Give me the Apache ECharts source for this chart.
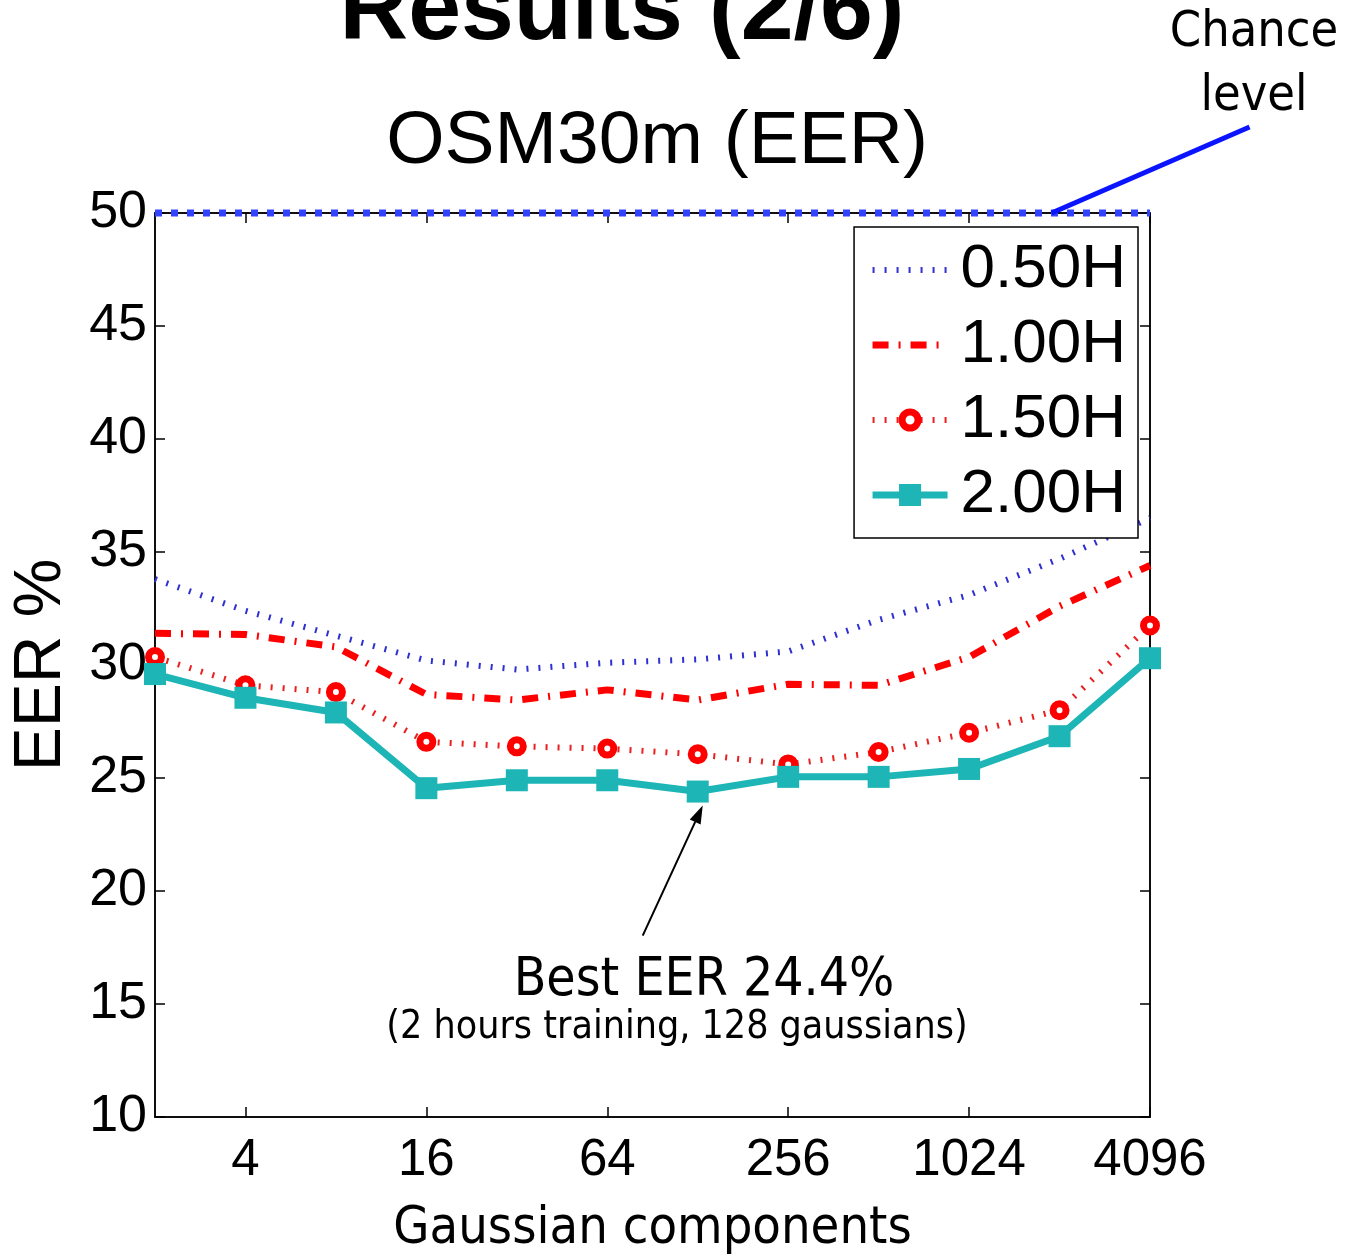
<!DOCTYPE html>
<html><head><meta charset="utf-8">
<script src="https://cdn.jsdelivr.net/npm/echarts@6/dist/echarts.min.js"></script>
<style>html,body{margin:0;padding:0;background:#fff}#c{width:1345px;height:1254px}</style>
</head><body><div id="c"></div>
<script>
const categories = ['2','4','8','16','32','64','128','256','512','1024','2048','4096'];
const h050 = [33.8, 32.4, 31.3, 30.2, 29.8, 30.1, 30.25, 30.6, 32.0, 33.1, 34.7, 36.5];
const h100 = [31.4, 31.35, 30.8, 28.7, 28.45, 28.9, 28.45, 29.15, 29.1, 30.35, 32.6, 34.4];
const h150 = [30.35, 29.1, 28.8, 26.6, 26.4, 26.3, 26.05, 25.6, 26.15, 27.0, 28.0, 31.75];
const h200 = [29.6, 28.55, 27.9, 24.55, 24.9, 24.9, 24.4, 25.05, 25.05, 25.4, 26.85, 30.3];
const chance = [50, 50, 50, 50, 50, 50, 50, 50, 50, 50, 50, 50];
const seriesNames = ['0.50H', '1.00H', '1.50H', '2.00H'];
const yTicks = {min: 10, max: 50, interval: 5};
const bestIndex = 6;
const chanceAnchorIndex = 10;

const AR = 'Liberation Sans, Arial, Helvetica, sans-serif';
const TA = 'DejaVu Sans Condensed, DejaVu Sans, Verdana, sans-serif';
const showOdd = (i) => i % 2 === 1;

const BLUE = '#3030d0', RED = '#ff0000', RED2 = '#e82020', CYAN = '#1db5b5';
const styles = {
  h050: {color: BLUE, width: 6, type: [2, 10]},
  h100: {color: RED, width: 7, type: [16, 10, 2, 10]},
  h150: {color: RED2, width: 6, type: [2, 10]},
  h200: {color: CYAN, width: 7, type: 'solid'}
};
const noSymbol = {color: 'rgba(0,0,0,0)', borderColor: 'rgba(0,0,0,0)', borderWidth: 0};

const chart = echarts.init(document.getElementById('c'), null, {renderer: 'canvas'});
const option = {
  animation: false,
  backgroundColor: '#fff',
  title: [
    {text: 'Results (2/6)', left: 617, top: -40, textAlign: 'center',
     textStyle: {fontFamily: AR, fontSize: 95, fontWeight: 'bold', color: '#000'}},
    {text: 'OSM30m (EER)', left: 652, top: 100, textAlign: 'center',
     textStyle: {fontFamily: AR, fontSize: 75, fontWeight: 'normal', color: '#000'}}
  ],
  grid: {left: 155, right: 195, top: 213, bottom: 137, show: true, borderColor: '#000', borderWidth: 1.5,
         backgroundColor: 'transparent', containLabel: false, outerBoundsMode: 'none'},
  legend: {
    data: [
      {name: seriesNames[0], lineStyle: styles.h050, itemStyle: noSymbol},
      {name: seriesNames[1], lineStyle: styles.h100, itemStyle: noSymbol},
      {name: seriesNames[2], lineStyle: styles.h150, itemStyle: {color: '#fff', borderColor: RED, borderWidth: 7}},
      {name: seriesNames[3], lineStyle: styles.h200, itemStyle: {color: CYAN, borderColor: CYAN, borderWidth: 6}}
    ],
    orient: 'vertical', right: 207, top: 227,
    backgroundColor: '#fff', borderColor: '#000', borderWidth: 1.5,
    padding: [12, 12, 12, 15], itemGap: 13, itemWidth: 75, itemHeight: 20,
    textStyle: {fontFamily: AR, fontSize: 62, color: '#000', lineHeight: 62, padding: [0, 0, 0, 8]}
  },
  xAxis: [
    {type: 'category', data: categories, boundaryGap: false,
     axisLine: {lineStyle: {color: '#000', width: 1.5}},
     axisTick: {inside: true, length: 10, interval: showOdd, lineStyle: {color: '#000', width: 1.5}},
     axisLabel: {interval: showOdd, fontFamily: AR, fontSize: 51, color: '#000', margin: 18},
     splitLine: {show: false},
     name: 'Gaussian components', nameLocation: 'middle', nameGap: 86,
     nameTextStyle: {fontFamily: TA, fontSize: 52, color: '#000'}},
    {type: 'category', data: categories, boundaryGap: false, position: 'top',
     axisLine: {lineStyle: {color: '#000', width: 1.5}},
     axisTick: {inside: true, length: 10, interval: showOdd, lineStyle: {color: '#000', width: 1.5}},
     axisLabel: {show: false}, splitLine: {show: false}}
  ],
  yAxis: [
    {type: 'value', min: yTicks.min, max: yTicks.max, interval: yTicks.interval,
     axisLine: {show: true, lineStyle: {color: '#000', width: 1.5}},
     axisTick: {show: true, inside: true, length: 10, lineStyle: {color: '#000', width: 1.5}},
     axisLabel: {fontFamily: AR, fontSize: 52, color: '#000', margin: 8},
     splitLine: {show: false},
     name: 'EER %', nameLocation: 'middle', nameRotate: 90, nameGap: 80,
     nameTextStyle: {fontFamily: AR, fontSize: 66, color: '#000'}},
    {type: 'value', min: yTicks.min, max: yTicks.max, interval: yTicks.interval, position: 'right',
     axisLine: {show: true, lineStyle: {color: '#000', width: 1.5}},
     axisTick: {show: true, inside: true, length: 10, lineStyle: {color: '#000', width: 1.5}},
     axisLabel: {show: false}, splitLine: {show: false}}
  ],
  series: [
    {name: 'chance', type: 'line', data: chance, symbol: 'none', clip: false, z: 5,
     lineStyle: {color: '#3344ff', width: 7, type: [7, 9]}},
    {name: seriesNames[0], type: 'line', data: h050, symbol: 'none',
     lineStyle: styles.h050, itemStyle: {color: BLUE}},
    {name: seriesNames[1], type: 'line', data: h100, symbol: 'none',
     lineStyle: styles.h100, itemStyle: {color: RED}},
    {name: seriesNames[2], type: 'line', data: h150, symbol: 'circle', symbolSize: 13,
     lineStyle: styles.h150,
     itemStyle: {color: '#fff', borderColor: RED, borderWidth: 7}},
    {name: seriesNames[3], type: 'line', data: h200, symbol: 'rect', symbolSize: 22,
     lineStyle: styles.h200, itemStyle: {color: CYAN}}
  ]
};
chart.setOption(option);

const best = chart.convertToPixel({xAxisIndex: 0, yAxisIndex: 0}, [bestIndex, h200[bestIndex]]);
const anc = chart.convertToPixel({xAxisIndex: 0, yAxisIndex: 0}, [chanceAnchorIndex, chance[chanceAnchorIndex]]);
const tip = [best[0] + 5, best[1] + 14];
const tail = [best[0] - 55, best[1] + 144];
const dx = tip[0] - tail[0], dy = tip[1] - tail[1];
const L = Math.sqrt(dx * dx + dy * dy), ux = dx / L, uy = dy / L;
const hl = 18, hw = 6;
const base = [tip[0] - ux * hl, tip[1] - uy * hl];
chart.setOption({
  graphic: [
    {type: 'line', shape: {x1: tail[0], y1: tail[1], x2: base[0], y2: base[1]}, style: {stroke: '#000', lineWidth: 2}, z: 10},
    {type: 'polygon', shape: {points: [tip, [base[0] - uy * hw, base[1] + ux * hw], [base[0] + uy * hw, base[1] - ux * hw]]}, style: {fill: '#000'}, z: 10},
    {type: 'line', shape: {x1: anc[0] - 8, y1: anc[1], x2: anc[0] + 190, y2: anc[1] - 86}, style: {stroke: '#0a14ff', lineWidth: 5}, z: 10},
    {type: 'text', x: 1254, y: 33, style: {text: 'Chance', font: '50px ' + TA, fill: '#000', textAlign: 'center', textVerticalAlign: 'middle'}, z: 10},
    {type: 'text', x: 1254, y: 97, style: {text: 'level', font: '50px ' + TA, fill: '#000', textAlign: 'center', textVerticalAlign: 'middle'}, z: 10},
    {type: 'text', x: 704, y: 981, style: {text: 'Best EER 24.4%', font: '53px ' + TA, fill: '#000', textAlign: 'center', textVerticalAlign: 'middle'}, z: 10},
    {type: 'text', x: 677, y: 1028, style: {text: '(2 hours training, 128 gaussians)', font: '39px ' + TA, fill: '#000', textAlign: 'center', textVerticalAlign: 'middle'}, z: 10}
  ]
});
</script></body></html>
